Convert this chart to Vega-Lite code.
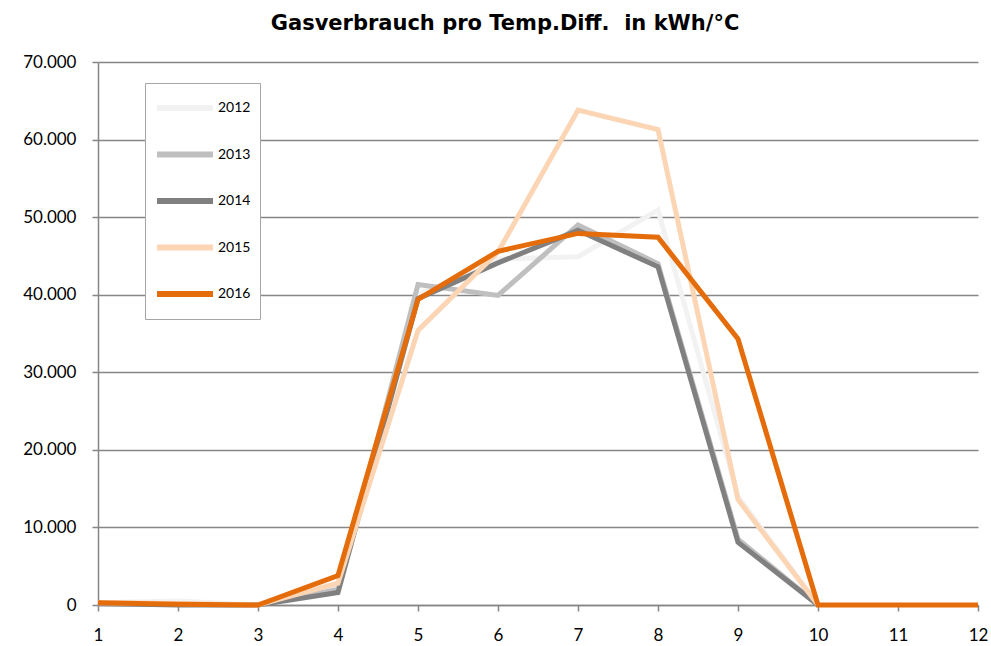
{
  "$schema": "https://vega.github.io/schema/vega-lite/v6.json",
  "width": 880,
  "height": 543,
  "autosize": {"type": "none"},
  "padding": {"left": 98, "top": 62, "right": 13, "bottom": 41},
  "background": "white",
  "title": {
    "text": "Gasverbrauch pro Temp.Diff.\u00a0 in kWh/°C",
    "font": "DejaVu Sans",
    "fontSize": 21,
    "fontWeight": "bold",
    "color": "#000000",
    "anchor": "middle",
    "frame": "group",
    "dx": -33,
    "offset": 19
  },
  "config": {
    "view": {"stroke": null},
    "locale": {"number": {"decimal": ",", "thousands": ".", "grouping": [3], "currency": ["", " €"]}},
    "font": "Lato"
  },
  "data": {
    "values": [
      {"m": 1, "y": "2012", "v": 300}, {"m": 2, "y": "2012", "v": 500}, {"m": 3, "y": "2012", "v": 0}, {"m": 4, "y": "2012", "v": 2500}, {"m": 5, "y": "2012", "v": 40000}, {"m": 6, "y": "2012", "v": 44600}, {"m": 7, "y": "2012", "v": 44900}, {"m": 8, "y": "2012", "v": 50900}, {"m": 9, "y": "2012", "v": 14000}, {"m": 10, "y": "2012", "v": 0},
      {"m": 1, "y": "2013", "v": 200}, {"m": 2, "y": "2013", "v": 100}, {"m": 3, "y": "2013", "v": 0}, {"m": 4, "y": "2013", "v": 2000}, {"m": 5, "y": "2013", "v": 41300}, {"m": 6, "y": "2013", "v": 39900}, {"m": 7, "y": "2013", "v": 49000}, {"m": 8, "y": "2013", "v": 44000}, {"m": 9, "y": "2013", "v": 8500}, {"m": 10, "y": "2013", "v": 0},
      {"m": 1, "y": "2014", "v": 200}, {"m": 2, "y": "2014", "v": 0}, {"m": 3, "y": "2014", "v": 0}, {"m": 4, "y": "2014", "v": 1600}, {"m": 5, "y": "2014", "v": 39500}, {"m": 6, "y": "2014", "v": 44100}, {"m": 7, "y": "2014", "v": 48300}, {"m": 8, "y": "2014", "v": 43600}, {"m": 9, "y": "2014", "v": 8100}, {"m": 10, "y": "2014", "v": 0},
      {"m": 1, "y": "2015", "v": 300}, {"m": 2, "y": "2015", "v": 200}, {"m": 3, "y": "2015", "v": 0}, {"m": 4, "y": "2015", "v": 2800}, {"m": 5, "y": "2015", "v": 35400}, {"m": 6, "y": "2015", "v": 45500}, {"m": 7, "y": "2015", "v": 63800}, {"m": 8, "y": "2015", "v": 61300}, {"m": 9, "y": "2015", "v": 13600}, {"m": 10, "y": "2015", "v": 0},
      {"m": 1, "y": "2016", "v": 300}, {"m": 2, "y": "2016", "v": 100}, {"m": 3, "y": "2016", "v": 0}, {"m": 4, "y": "2016", "v": 3800}, {"m": 5, "y": "2016", "v": 39400}, {"m": 6, "y": "2016", "v": 45600}, {"m": 7, "y": "2016", "v": 47900}, {"m": 8, "y": "2016", "v": 47400}, {"m": 9, "y": "2016", "v": 34300}, {"m": 10, "y": "2016", "v": 0}, {"m": 11, "y": "2016", "v": 0}, {"m": 12, "y": "2016", "v": 0}
    ]
  },
  "mark": {"type": "line", "strokeWidth": 5, "strokeJoin": "miter", "strokeCap": "butt", "clip": false},
  "encoding": {
    "x": {
      "field": "m", "type": "quantitative",
      "scale": {"domain": [1, 12], "nice": false, "zero": false},
      "axis": {
        "title": null, "values": [1,2,3,4,5,6,7,8,9,10,11,12], "format": "d",
        "grid": false, "domainColor": "#868686", "domainWidth": 1.5,
        "tickColor": "#868686", "tickWidth": 1.5, "tickSize": 6,
        "labelFont": "Lato", "labelFontSize": 17, "labelColor": "#000000",
        "labelPadding": 16, "labelFlush": false
      }
    },
    "y": {
      "field": "v", "type": "quantitative",
      "scale": {"domain": [0, 70000], "nice": false},
      "axis": {
        "title": null, "values": [0,10000,20000,30000,40000,50000,60000,70000], "format": ",.0f",
        "grid": true, "gridColor": "#868686", "gridWidth": 1.5,
        "domainColor": "#868686", "domainWidth": 1.5,
        "tickColor": "#868686", "tickWidth": 1.5, "tickSize": 6,
        "labelFont": "Lato", "labelFontSize": 17, "labelColor": "#000000",
        "labelPadding": 16
      }
    },
    "color": {
      "field": "y", "type": "nominal",
      "scale": {"domain": ["2012","2013","2014","2015","2016"], "range": ["#f2f2f2","#bfbfbf","#808080","#fcd5b5","#e46c0a"]},
      "legend": {
        "title": null, "orient": "none", "legendX": 47, "legendY": 21,
        "symbolType": "stroke", "symbolSize": 3136, "symbolStrokeWidth": 6,
        "clipHeight": 32, "rowPadding": 14.5, "padding": 9,
        "labelFont": "Lato", "labelFontSize": 14, "labelColor": "#000000", "labelOffset": 2,
        "strokeColor": "#a6a6a6", "fillColor": "#ffffff", "labelLimit": 100
      }
    },
    "order": {"field": "m"}
  }
}
